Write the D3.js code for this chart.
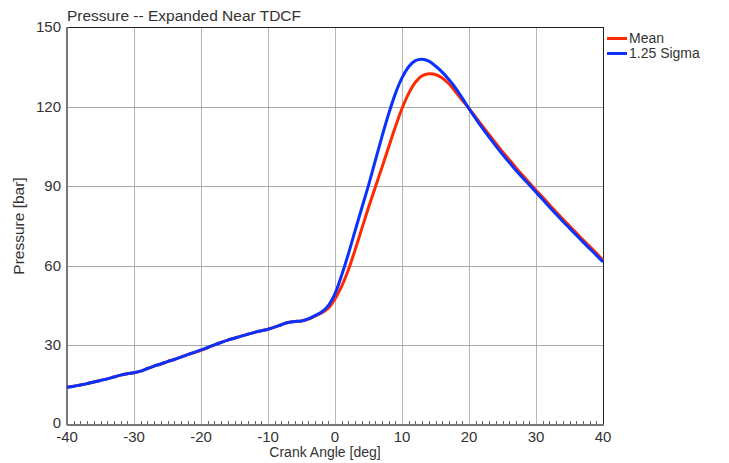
<!DOCTYPE html>
<html>
<head>
<meta charset="utf-8">
<script src="https://cdn.jsdelivr.net/npm/d3@7"></script>
<style>
  body { margin: 0; background: #fff; }
  svg text { font-family: "Liberation Sans", Arial, sans-serif; }
</style>
</head>
<body>
<div id="chart"></div>
<script>
const width = 729;
const height = 463;
const margin = { top: 27, right: 126, bottom: 38, left: 67 };

// crank angle, one point per degree
const angles = d3.range(-40, 41);

const meanPressure = [
    14.2, 14.6, 15.1, 15.6, 16.2, 16.8, 17.4, 18.1, 18.8, 19.3,
    19.7, 20.3, 21.3, 22.2, 23.0, 23.9, 24.7, 25.6, 26.5, 27.3,
    28.1, 29.1, 30.2, 31.1, 32.0, 32.7, 33.5, 34.2, 34.9, 35.5,
    36.1, 36.9, 37.8, 38.6, 39.0, 39.2, 39.9, 41.0, 42.2, 44.0,
    47.5, 52.3, 58.5, 66.0, 74.0, 82.0, 89.5, 97.0, 104.7, 112.3,
    119.3, 125.0, 129.2, 131.6, 132.4, 132.1, 130.8, 128.6, 125.6, 122.4,
    119.3, 116.0, 112.7, 109.4, 106.2, 103.0, 100.0, 97.0, 94.1, 91.3,
    88.5, 85.8, 83.0, 80.3, 77.6, 75.0, 72.4, 69.8, 67.3, 64.8,
    62.0
];

const sigmaPressure = [
    14.2, 14.6, 15.1, 15.6, 16.2, 16.8, 17.4, 18.1, 18.8, 19.3,
    19.7, 20.3, 21.3, 22.2, 23.0, 23.9, 24.7, 25.6, 26.5, 27.4,
    28.3, 29.2, 30.2, 31.1, 32.0, 32.7, 33.5, 34.2, 34.9, 35.5,
    36.1, 36.9, 37.8, 38.6, 39.0, 39.2, 40.0, 41.2, 42.6, 45.0,
    49.5, 56.5, 64.5, 73.2, 81.8, 90.3, 99.5, 108.6, 117.2, 124.8,
    130.8, 135.0, 137.3, 137.8, 137.1, 135.3, 133.0, 130.2, 127.0, 123.2,
    119.2, 115.5, 111.9, 108.5, 105.2, 102.0, 99.0, 96.0, 93.2, 90.5,
    87.7, 85.0, 82.2, 79.5, 76.8, 74.2, 71.6, 69.0, 66.5, 64.0,
    61.5
];

const seriesNames = ["Mean", "1.25 Sigma"];
const seriesColors = ["#ff2a00", "#0a32ff"];
const xTicks = [-40, -30, -20, -10, 0, 10, 20, 30, 40];
const yTicks = [0, 30, 60, 90, 120, 150];

const plotW = width - margin.left - margin.right;
const plotH = height - margin.top - margin.bottom;

const x = d3.scaleLinear().domain([-40, 40]).range([margin.left, margin.left + plotW]);
const y = d3.scaleLinear().domain([0, 150]).range([margin.top + plotH, margin.top]);

const svg = d3.select("#chart")
    .append("svg")
    .attr("width", width)
    .attr("height", height);

// grid
svg.selectAll(".xGrid")
    .data(xTicks.slice(1, -1))
    .enter()
    .append("line")
    .attr("x1", d => x(d) + 0.5)
    .attr("x2", d => x(d) + 0.5)
    .attr("y1", y(0))
    .attr("y2", y(150))
    .attr("stroke", "#b4b4b4")
    .attr("stroke-width", 1);

svg.selectAll(".yGrid")
    .data(yTicks.slice(1, -1))
    .enter()
    .append("line")
    .attr("x1", x(-40))
    .attr("x2", x(40))
    .attr("y1", d => Math.round(y(d)) + 0.5)
    .attr("y2", d => Math.round(y(d)) + 0.5)
    .attr("stroke", "#a8a8a8")
    .attr("stroke-width", 1);

// frame: top and right dark, left and bottom gray
svg.append("line")
    .attr("x1", x(-40)).attr("x2", x(40) + 1)
    .attr("y1", y(150) + 0.5).attr("y2", y(150) + 0.5)
    .attr("stroke", "#222");
svg.append("line")
    .attr("x1", x(40) + 0.5).attr("x2", x(40) + 0.5)
    .attr("y1", y(150)).attr("y2", y(0))
    .attr("stroke", "#222");

// minor ticks on the x axis
svg.selectAll(".minor")
    .data(d3.range(-39, 40).filter(d => d % 10 !== 0))
    .enter()
    .append("line")
    .attr("x1", d => Math.round(x(d)) + 0.5)
    .attr("x2", d => Math.round(x(d)) + 0.5)
    .attr("y1", y(0))
    .attr("y2", y(0) - 4)
    .attr("stroke", "#666");

svg.append("line")
    .attr("x1", x(-40)).attr("x2", x(40) + 1)
    .attr("y1", y(0)).attr("y2", y(0))
    .attr("stroke", "#777")
    .attr("stroke-width", 2);
svg.append("line")
    .attr("x1", x(-40)).attr("x2", x(-40))
    .attr("y1", y(150)).attr("y2", y(0))
    .attr("stroke", "#777")
    .attr("stroke-width", 2);

// tick labels
svg.selectAll(".xLabel")
    .data(xTicks)
    .enter()
    .append("text")
    .attr("x", d => x(d))
    .attr("y", y(0) + 17)
    .attr("text-anchor", "middle")
    .style("font-size", "15px")
    .style("fill", "#333")
    .text(d => d);

svg.selectAll(".yLabel")
    .data(yTicks)
    .enter()
    .append("text")
    .attr("x", x(-40) - 6)
    .attr("y", d => y(d) + (d === 0 ? 3 : 5))
    .attr("text-anchor", "end")
    .style("font-size", "15px")
    .style("fill", "#333")
    .text(d => d);

// curves
const line = d3.line()
    .x(d => x(d[0]))
    .y(d => y(d[1]))
    .curve(d3.curveCatmullRom);

[meanPressure, sigmaPressure].forEach((vals, i) => {
    svg.append("path")
        .datum(angles.map((a, j) => [a, vals[j]]))
        .attr("fill", "none")
        .attr("stroke", seriesColors[i])
        .attr("stroke-width", 3)
        .attr("stroke-linejoin", "round")
        .attr("d", line);
});

// titles
svg.append("text")
    .attr("x", x(-40))
    .attr("y", 21)
    .style("font-size", "15.5px")
    .style("fill", "#333")
    .text("Pressure -- Expanded Near TDCF");

svg.append("text")
    .attr("x", 325)
    .attr("y", 457)
    .attr("text-anchor", "middle")
    .style("font-size", "14px")
    .style("fill", "#333")
    .text("Crank Angle [deg]");

svg.append("text")
    .attr("transform", `translate(24, 226) rotate(-90)`)
    .attr("text-anchor", "middle")
    .style("font-size", "15.5px")
    .style("fill", "#333")
    .text("Pressure [bar]");

// legend
const legend = svg.selectAll(".legend")
    .data(seriesNames)
    .enter()
    .append("g")
    .attr("transform", (d, i) => `translate(607, ${38.5 + i * 15})`);

legend.append("line")
    .attr("x1", 0).attr("x2", 20)
    .attr("y1", 0).attr("y2", 0)
    .attr("stroke", (d, i) => seriesColors[i])
    .attr("stroke-width", 3);

legend.append("text")
    .attr("x", 22)
    .attr("y", 4.5)
    .style("font-size", "14px")
    .style("fill", "#333")
    .text(d => d);
</script>
</body>
</html>
